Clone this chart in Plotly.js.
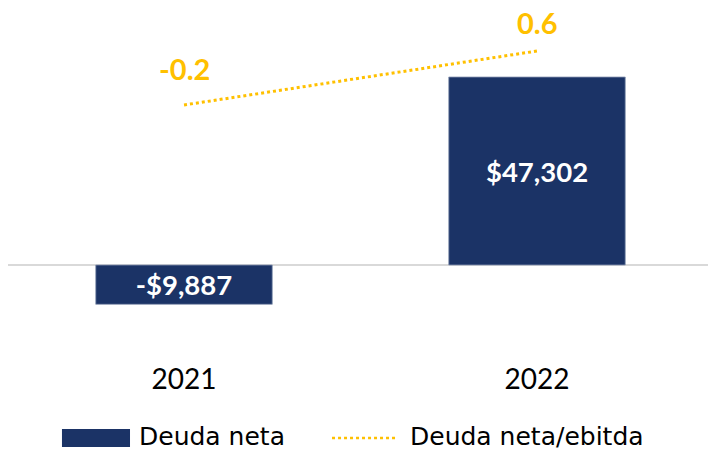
<!DOCTYPE html>
<html>
<head>
<meta charset="utf-8">
<script src="https://cdn.plot.ly/plotly-3.0.1.min.js"></script>
<style>html,body{margin:0;padding:0;background:#fff;}#chart{width:708px;height:450px;}</style>
</head>
<body>
<div id="chart"></div>
<script>
const years = ['2021', '2022'];
const seriesNames = ['Deuda neta', 'Deuda neta/ebitda'];
const deudaNeta = [-9887, 47302];
const deudaNetaLabels = ['-$9,887', '$47,302'];
const ratio = [-0.2, 0.6];
const ratioLabels = ['-0.2', '0.6'];

const FONT = 'Lato, "Liberation Sans", sans-serif';
const LEGFONT = '"DejaVu Sans", sans-serif';
const NAVY = '#1b3366';
const GOLD = '#ffc000';

const traces = [
  {
    type: 'bar', name: seriesNames[0], x: years, y: deudaNeta,
    text: deudaNetaLabels, textposition: 'inside', insidetextanchor: 'middle',
    textfont: {family: FONT, size: 27.5, color: '#ffffff', weight: 'bold'},
    marker: {color: NAVY, line: {color: '#8a98b3', width: 0.8}},
    width: 0.5, hoverinfo: 'none', cliponaxis: false
  },
  {
    type: 'scatter', mode: 'lines', name: seriesNames[1], x: years, y: ratio,
    yaxis: 'y2',
    line: {color: GOLD, width: 3, dash: 'dot'}, hoverinfo: 'none', cliponaxis: false
  }
];

// data labels for the ratio line (x as category index)
const labelShift = [37, 29];
const annotations = ratio.map((v, i) => ({
  x: i, y: v, xref: 'x', yref: 'y2', text: ratioLabels[i], showarrow: false,
  yshift: labelShift[i], xanchor: 'center', yanchor: 'middle',
  font: {family: FONT, size: 29, color: GOLD, weight: 'bold'}
}));

// custom legend (paper coordinates)
annotations.push(
  {xref: 'paper', yref: 'paper', x: 0.184, y: -0.219, xanchor: 'left', yanchor: 'middle',
   text: seriesNames[0], showarrow: false, font: {family: LEGFONT, size: 25, color: '#000'}},
  {xref: 'paper', yref: 'paper', x: 0.571, y: -0.219, xanchor: 'left', yanchor: 'middle',
   text: seriesNames[1], showarrow: false, font: {family: LEGFONT, size: 25, color: '#000'}}
);
const shapes = [
  {type: 'rect', xref: 'paper', yref: 'paper', x0: 0.0771, x1: 0.1743, y0: -0.1971, y1: -0.2486,
   fillcolor: NAVY, line: {width: 0}},
  {type: 'line', xref: 'paper', yref: 'paper', x0: 0.4629, x1: 0.5557, y0: -0.2229, y1: -0.2229,
   line: {color: GOLD, width: 2.5, dash: 'dot'}}
];

const layout = {
  width: 708, height: 450,
  margin: {l: 8, r: 0, t: 10, b: 90},
  paper_bgcolor: '#ffffff', plot_bgcolor: '#ffffff',
  font: {family: FONT, color: '#000000'},
  showlegend: false,
  annotations: annotations,
  shapes: shapes,
  xaxis: {type: 'category', range: [-0.4986, 1.4844], showgrid: false, showline: false,
          ticks: '', tickfont: {family: FONT, size: 28, color: '#000'}, fixedrange: true,
          automargin: false},
  yaxis: {range: [-23902, 64160], showgrid: false, showticklabels: false, ticks: '',
          zeroline: true, zerolinecolor: '#d9d9d9', zerolinewidth: 2.5, fixedrange: true,
          automargin: false},
  yaxis2: {range: [-3.978, 1.2074], overlaying: 'y', side: 'right', showgrid: false,
           showticklabels: false, ticks: '', zeroline: false, fixedrange: true, automargin: false}
};

Plotly.newPlot('chart', traces, layout, {displayModeBar: false, staticPlot: true});
</script>
</body>
</html>
